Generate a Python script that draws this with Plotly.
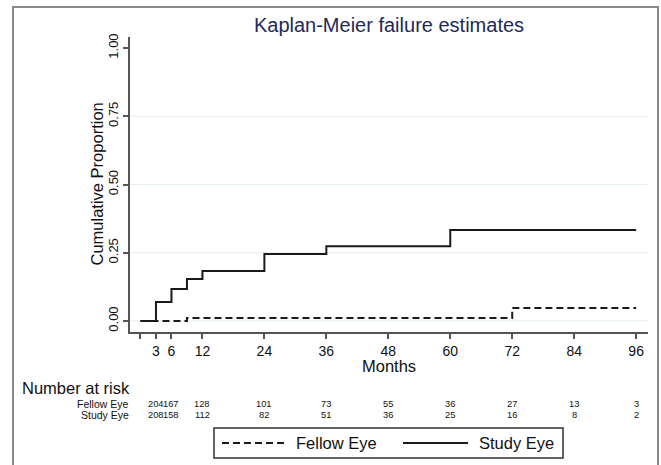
import plotly.graph_objects as go

# ---- data ----
study_months = [0, 3, 6, 9, 12, 24, 36, 60, 96]
study_cum = [0.0, 0.070, 0.117, 0.154, 0.183, 0.245, 0.274, 0.333, 0.333]
fellow_months = [0, 9, 72, 96]
fellow_cum = [0.0, 0.011, 0.048, 0.048]

tick_months = [3, 6, 12, 24, 36, 48, 60, 72, 84, 96]
risk_fellow = [204, 167, 128, 101, 73, 55, 36, 27, 13, 3]
risk_study = [208, 158, 112, 82, 51, 36, 25, 16, 8, 2]
y_ticks = [0, 0.25, 0.5, 0.75, 1.0]
y_ticklabels = ["0.00", "0.25", "0.50", "0.75", "1.00"]
grid_vals = [0, 0.25, 0.5, 0.75]

FONT = "Liberation Sans, Arial, sans-serif"
LINE = "#1a1a1a"
AX = "#555555"

W, H = 661, 465
L, R, T, B = 130, 13, 37, 133
PW, PH = W - L - R, H - T - B


def px(xp):
    return (xp - L) / PW


def py(yp):
    return (H - B - yp) / PH


fig = go.Figure()
fig.add_trace(go.Scatter(x=fellow_months, y=fellow_cum, mode="lines", line_shape="hv",
                         line=dict(color=LINE, width=2, dash="7px,4px"), name="Fellow Eye",
                         showlegend=False))
fig.add_trace(go.Scatter(x=study_months, y=study_cum, mode="lines", line_shape="hv",
                         line=dict(color=LINE, width=2), name="Study Eye", showlegend=False))

shapes = []
for g in grid_vals:
    shapes.append(dict(type="line", xref="paper", yref="y", x0=0, x1=1, y0=g, y1=g,
                       line=dict(color="#e3eef2", width=1), layer="below"))
# outer frame
shapes.append(dict(type="rect", xref="paper", yref="paper", x0=px(13), x1=px(658),
                   y0=py(475), y1=py(7), line=dict(color="#8a8a8a", width=2)))
# legend box
shapes.append(dict(type="rect", xref="paper", yref="paper", x0=px(214), x1=px(563),
                   y0=py(458), y1=py(428), line=dict(color="#333333", width=1.5)))
shapes.append(dict(type="line", xref="paper", yref="paper", x0=px(222), x1=px(287),
                   y0=py(443), y1=py(443), line=dict(color=LINE, width=2, dash="7px,4px")))
shapes.append(dict(type="line", xref="paper", yref="paper", x0=px(403), x1=px(468),
                   y0=py(443), y1=py(443), line=dict(color=LINE, width=2)))

ann = []
ann.append(dict(text="Fellow Eye", xref="paper", yref="paper", x=px(294), y=py(443),
                xanchor="left", yanchor="middle", showarrow=False,
                font=dict(size=16.5, color="#111111", family=FONT)))
ann.append(dict(text="Study Eye", xref="paper", yref="paper", x=px(477), y=py(443),
                xanchor="left", yanchor="middle", showarrow=False,
                font=dict(size=16.5, color="#111111", family=FONT)))
ann.append(dict(text="Number at risk", xref="paper", yref="paper", x=px(20), y=py(388),
                xanchor="left", yanchor="middle", showarrow=False,
                font=dict(size=16.5, color="#111111", family=FONT)))
ann.append(dict(text="Fellow Eye", xref="paper", yref="paper", x=px(131), y=py(404),
                xanchor="right", yanchor="middle", showarrow=False,
                font=dict(size=10.5, color="#111111", family=FONT)))
ann.append(dict(text="Study Eye", xref="paper", yref="paper", x=px(131), y=py(415),
                xanchor="right", yanchor="middle", showarrow=False,
                font=dict(size=10.5, color="#111111", family=FONT)))
for m, f, s in zip(tick_months, risk_fellow, risk_study):
    ann.append(dict(text=str(f), xref="x", yref="paper", x=m, y=py(404), xanchor="center",
                    yanchor="middle", showarrow=False, borderpad=0,
                    font=dict(size=9.3, color="#111111", family=FONT)))
    ann.append(dict(text=str(s), xref="x", yref="paper", x=m, y=py(415), xanchor="center",
                    yanchor="middle", showarrow=False, borderpad=0,
                    font=dict(size=9.3, color="#111111", family=FONT)))
ann.append(dict(text="Months", xref="paper", yref="paper", x=px(389), y=py(366),
                xanchor="center", yanchor="middle", showarrow=False,
                font=dict(size=16.5, color="#111111", family=FONT)))
ann.append(dict(text="Cumulative Proportion", xref="paper", yref="paper", x=px(96), y=0.5,
                xanchor="center", yanchor="middle", showarrow=False, textangle=-90,
                font=dict(size=16.5, color="#111111", family=FONT)))

fig.update_layout(
    width=W, height=H,
    margin=dict(l=L, r=R, t=T, b=B, pad=0),
    paper_bgcolor="white", plot_bgcolor="white",
    title=dict(text="Kaplan-Meier failure estimates", x=389 / W, y=1 - 25 / H,
               xanchor="center", yanchor="middle", xref="container", yref="container",
               font=dict(size=20, color="#1e2a5a", family=FONT)),
    shapes=shapes, annotations=ann,
    font=dict(family=FONT, color="#111111"),
)
fig.update_xaxes(range=[-2.03, 98.3], tickvals=[0] + tick_months,
                 ticktext=[""] + [str(t) for t in tick_months],
                 showline=True, linecolor=AX, linewidth=1.5, ticks="outside", ticklen=5,
                 tickwidth=1.5, tickcolor=AX, showgrid=False, zeroline=False,
                 tickfont=dict(size=14, color="#111111", family=FONT))
fig.update_yaxes(range=[-0.0403, 1.0403], tickvals=y_ticks, ticktext=y_ticklabels,
                 tickangle=-90, showline=True, linecolor=AX, linewidth=1.5, ticks="outside",
                 ticklen=5, tickwidth=1.5, tickcolor=AX, showgrid=False, zeroline=False,
                 tickfont=dict(size=13, color="#111111", family=FONT))

fig.write_html("out.html")
